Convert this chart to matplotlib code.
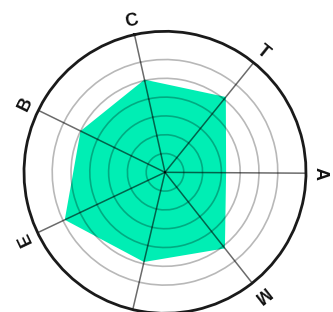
import numpy as np
import matplotlib.pyplot as plt

# ------------------------------------------------
# DATA
# ------------------------------------------------

categories = ["C", "T", "A", "M", "", "E", "B"]
values     = [101, 103, 65, 103, 98, 118, 100]
ring_ticks = [20, 40, 60, 80, 100, 120]
r_max      = 150

FILL_COLOR = "#00EEB4"

# ------------------------------------------------
# PLOT
# ------------------------------------------------

n = len(categories)
angles = np.linspace(0, 2 * np.pi, n, endpoint=False)
closed_angles = np.append(angles, angles[0])
closed_values = np.append(values, values[0])

fig = plt.figure(figsize=(3.33, 3.12), dpi=100)
ax = fig.add_axes([0.0721, -0.0042, 0.8468, 0.9038], projection="polar")

ax.set_theta_direction(-1)
ax.set_theta_offset(np.radians(102.5))

ax.fill(closed_angles, closed_values, color=FILL_COLOR, linewidth=0)

ax.set_ylim(0, r_max)
ax.set_rgrids(ring_ticks, labels=[""] * len(ring_ticks))
ax.set_xticks(angles)
ax.set_xticklabels([""] * n)

ax.yaxis.grid(True, color="black", alpha=0.28, linewidth=1.2)
ax.xaxis.grid(True, color="black", alpha=0.58, linewidth=1.1)
ax.spines["polar"].set_color("#1a1a1a")
ax.spines["polar"].set_linewidth(2.0)

# radial-facing category labels
for ang, lab in zip(angles, categories):
    if not lab:
        continue
    disp = np.degrees(np.radians(102.5) - ang)
    ax.text(ang, 165, lab, rotation=disp - 90, rotation_mode="anchor",
            ha="center", va="center", fontsize=13, fontweight="bold",
            family="Liberation Sans", color="#111111")

fig.savefig("out.png", dpi=100)
